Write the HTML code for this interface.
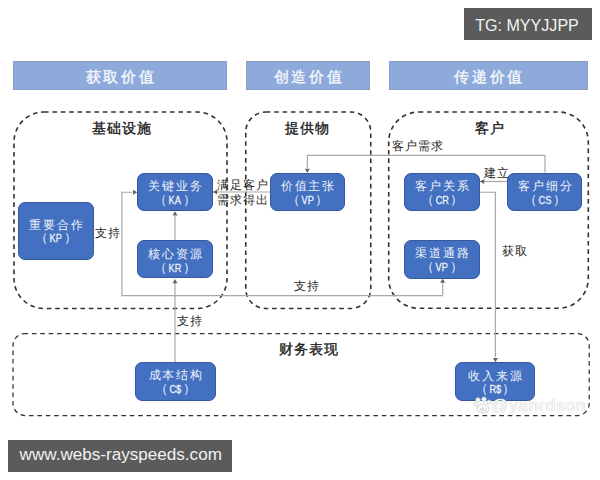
<!DOCTYPE html>
<html><head><meta charset="utf-8">
<style>
*{margin:0;padding:0;box-sizing:border-box}
html,body{width:600px;height:480px;background:#fff;overflow:hidden}
body{position:relative;font-family:"Liberation Serif",serif;color:#222}
.hb{position:absolute;top:61px;height:29px;background:#8eaadb;border:1px solid #8a9cc0;color:#f4f6fb;font-size:15px;letter-spacing:2.7px;padding-left:2.7px;padding-top:1.5px;text-align:center;line-height:27px;-webkit-text-stroke:0.4px #f4f6fb}
.bx{position:absolute;background:#4370c0;border:1px solid #34599e;border-radius:7px}
.r1,.r2{position:absolute;width:120px;text-align:center;line-height:1;white-space:nowrap;color:#eef2fa}
.r1{font-size:12px;letter-spacing:1.8px;padding-left:1.8px}
.r2{font-size:13px}
.r2 b{font-family:"Liberation Sans",sans-serif;font-weight:normal;font-size:11.5px;-webkit-text-stroke:0.3px #eef2fa;display:inline-block;transform:scaleX(0.8)}
.lab{position:absolute;background:#5b5b5b;color:#f2f2f2;font-family:"Liberation Sans",sans-serif;text-align:center}
.sec{position:absolute;font-size:14px;-webkit-text-stroke:0.35px #1a1a1a;letter-spacing:1px;line-height:1;color:#1a1a1a;white-space:nowrap}
.cap{position:absolute;font-size:12px;letter-spacing:1px;line-height:1;color:#2a2a2a;white-space:nowrap}
</style></head><body>
<div class="lab" style="left:464px;top:8px;width:128px;height:31.5px;font-size:16.1px;line-height:31.5px;padding-top:2px;padding-right:2px">TG: MYYJJPP</div>
<div class="lab" style="left:8px;top:440px;width:224px;height:31.5px;font-size:17.1px;line-height:29.5px;padding-left:1.5px">www.webs-rayspeeds.com</div>

<div class="hb" style="left:13px;width:213.5px">获取价值</div>
<div class="hb" style="left:245.5px;width:124.5px">创造价值</div>
<div class="hb" style="left:388.5px;width:199.5px">传递价值</div>

<svg width="600" height="480" style="position:absolute;left:0;top:0">
<g fill="none" stroke="#333" stroke-width="1.6" stroke-dasharray="4.6 3.8">
<rect x="14" y="112" width="213" height="196.5" rx="30"/>
<rect x="245.75" y="112" width="125" height="196.5" rx="20"/>
<rect x="388.7" y="112" width="199.6" height="196.3" rx="30"/>
</g>
<rect x="13" y="333.5" width="576.2" height="82" rx="12" fill="none" stroke="#333" stroke-width="1.25" stroke-dasharray="4.6 3.8" stroke-dashoffset="1.5"/>
<g fill="none" stroke="#a8a8a8" stroke-width="1.2">
<path d="M545,172.6 V155.3 H307.4 V168"/>
<path d="M270,192 H209"/>
<path d="M507,181.5 H476"/>
<path d="M480,192.25 H495.4 V357"/>
<path d="M175,362 V283"/>
<path d="M175,240.5 V216"/>
<path d="M442.7,295.6 H121.9 V192.25 H132"/>
<path d="M442.7,295.6 V283"/>
</g>
<g fill="#626262">
<path d="M307.4,172.9 l-2.4,-4.2 h4.8z"/>
<path d="M213,192 l4.2,-2.4 v4.8z"/>
<path d="M480,181.5 l4.2,-2.4 v4.8z"/>
<path d="M495.4,362.3 l-2.4,-4.2 h4.8z"/>
<path d="M175,279 l-2.4,4.2 h4.8z"/>
<path d="M175,211.2 l-2.4,4.2 h4.8z"/>
<path d="M137.2,192.25 l-4.2,-2.4 v4.8z"/>
<path d="M442.7,278.5 l-2.4,4.2 h4.8z"/>
</g>
</svg>

<div class="sec" style="left:92px;top:121.5px">基础设施</div>
<div class="sec" style="left:285px;top:122px">提供物</div>
<div class="sec" style="left:475px;top:121.5px">客户</div>
<div class="sec" style="left:279px;top:342.5px">财务表现</div>

<div class="bx" style="left:18.2px;top:201.8px;width:75.8px;height:58.6px"></div>
<div class="r1" style="left:-3.9px;top:218.5px">重要合作</div>
<div class="r2" style="left:-3.9px;top:230.8px">（<b>KP</b>）</div>
<div class="bx" style="left:137.2px;top:172.9px;width:75.8px;height:38.6px"></div>
<div class="r1" style="left:115.1px;top:180.2px">关键业务</div>
<div class="r2" style="left:115.1px;top:193.4px">（<b>KA</b>）</div>
<div class="bx" style="left:137.2px;top:240.4px;width:75.8px;height:38.1px"></div>
<div class="r1" style="left:115.1px;top:247.6px">核心资源</div>
<div class="r2" style="left:115.1px;top:260.8px">（<b>KR</b>）</div>
<div class="bx" style="left:270.3px;top:172.8px;width:74.7px;height:38.4px"></div>
<div class="r1" style="left:247.6px;top:180.3px">价值主张</div>
<div class="r2" style="left:247.6px;top:193.4px">（<b>VP</b>）</div>
<div class="bx" style="left:404.3px;top:173.0px;width:75.5px;height:38.4px"></div>
<div class="r1" style="left:382.1px;top:180.3px">客户关系</div>
<div class="r2" style="left:382.1px;top:193.2px">（<b>CR</b>）</div>
<div class="bx" style="left:507.4px;top:172.7px;width:75.0px;height:38.5px"></div>
<div class="r1" style="left:484.9px;top:180.3px">客户细分</div>
<div class="r2" style="left:484.9px;top:193.2px">（<b>CS</b>）</div>
<div class="bx" style="left:404.3px;top:240.3px;width:75.5px;height:38.5px"></div>
<div class="r1" style="left:382.1px;top:247.3px">渠道通路</div>
<div class="r2" style="left:382.1px;top:260.2px">（<b>VP</b>）</div>
<div class="bx" style="left:135.0px;top:362.3px;width:80.9px;height:38.8px"></div>
<div class="r1" style="left:115.4px;top:368.6px">成本结构</div>
<div class="r2" style="left:115.4px;top:381.7px">（<b>C$</b>）</div>
<div class="bx" style="left:454.8px;top:362.3px;width:80.3px;height:39.1px"></div>
<div class="r1" style="left:435.0px;top:370.0px">收入来源</div>
<div class="r2" style="left:435.0px;top:382.4px">（<b>R$</b>）</div>

<div class="cap" style="left:392px;top:140px">客户需求</div>
<div class="cap" style="left:217px;top:178.7px">满足客户</div>
<div class="cap" style="left:217px;top:193.8px">需求得出</div>
<div class="cap" style="left:484px;top:166.5px">建立</div>
<div class="cap" style="left:502px;top:245px">获取</div>
<div class="cap" style="left:95.3px;top:226.7px">支持</div>
<div class="cap" style="left:177.3px;top:315px">支持</div>
<div class="cap" style="left:294.3px;top:280px">支持</div>
<div style="position:absolute;left:491px;top:397px;font-family:'Liberation Sans',sans-serif;font-size:17px;line-height:1;color:#fafafa;letter-spacing:0.9px;text-shadow:0 0 1px #c8c8c8,0 0 1px #c8c8c8">@yanrdson</div>
<svg width="20" height="18" style="position:absolute;left:473px;top:396px" viewBox="0 0 20 18">
<g fill="#fafafa" stroke="#cfcfcf" stroke-width="0.9">
<circle cx="5" cy="4" r="2.2"/><circle cx="11" cy="3.2" r="2.2"/><circle cx="16" cy="6" r="2"/><circle cx="2.8" cy="8.5" r="1.8"/>
<ellipse cx="10" cy="12.5" rx="6" ry="4.5"/>
</g>
<text x="10" y="15" font-family="Liberation Sans" font-size="6" text-anchor="middle" fill="#c8c8c8">du</text>
</svg>
</body></html>
